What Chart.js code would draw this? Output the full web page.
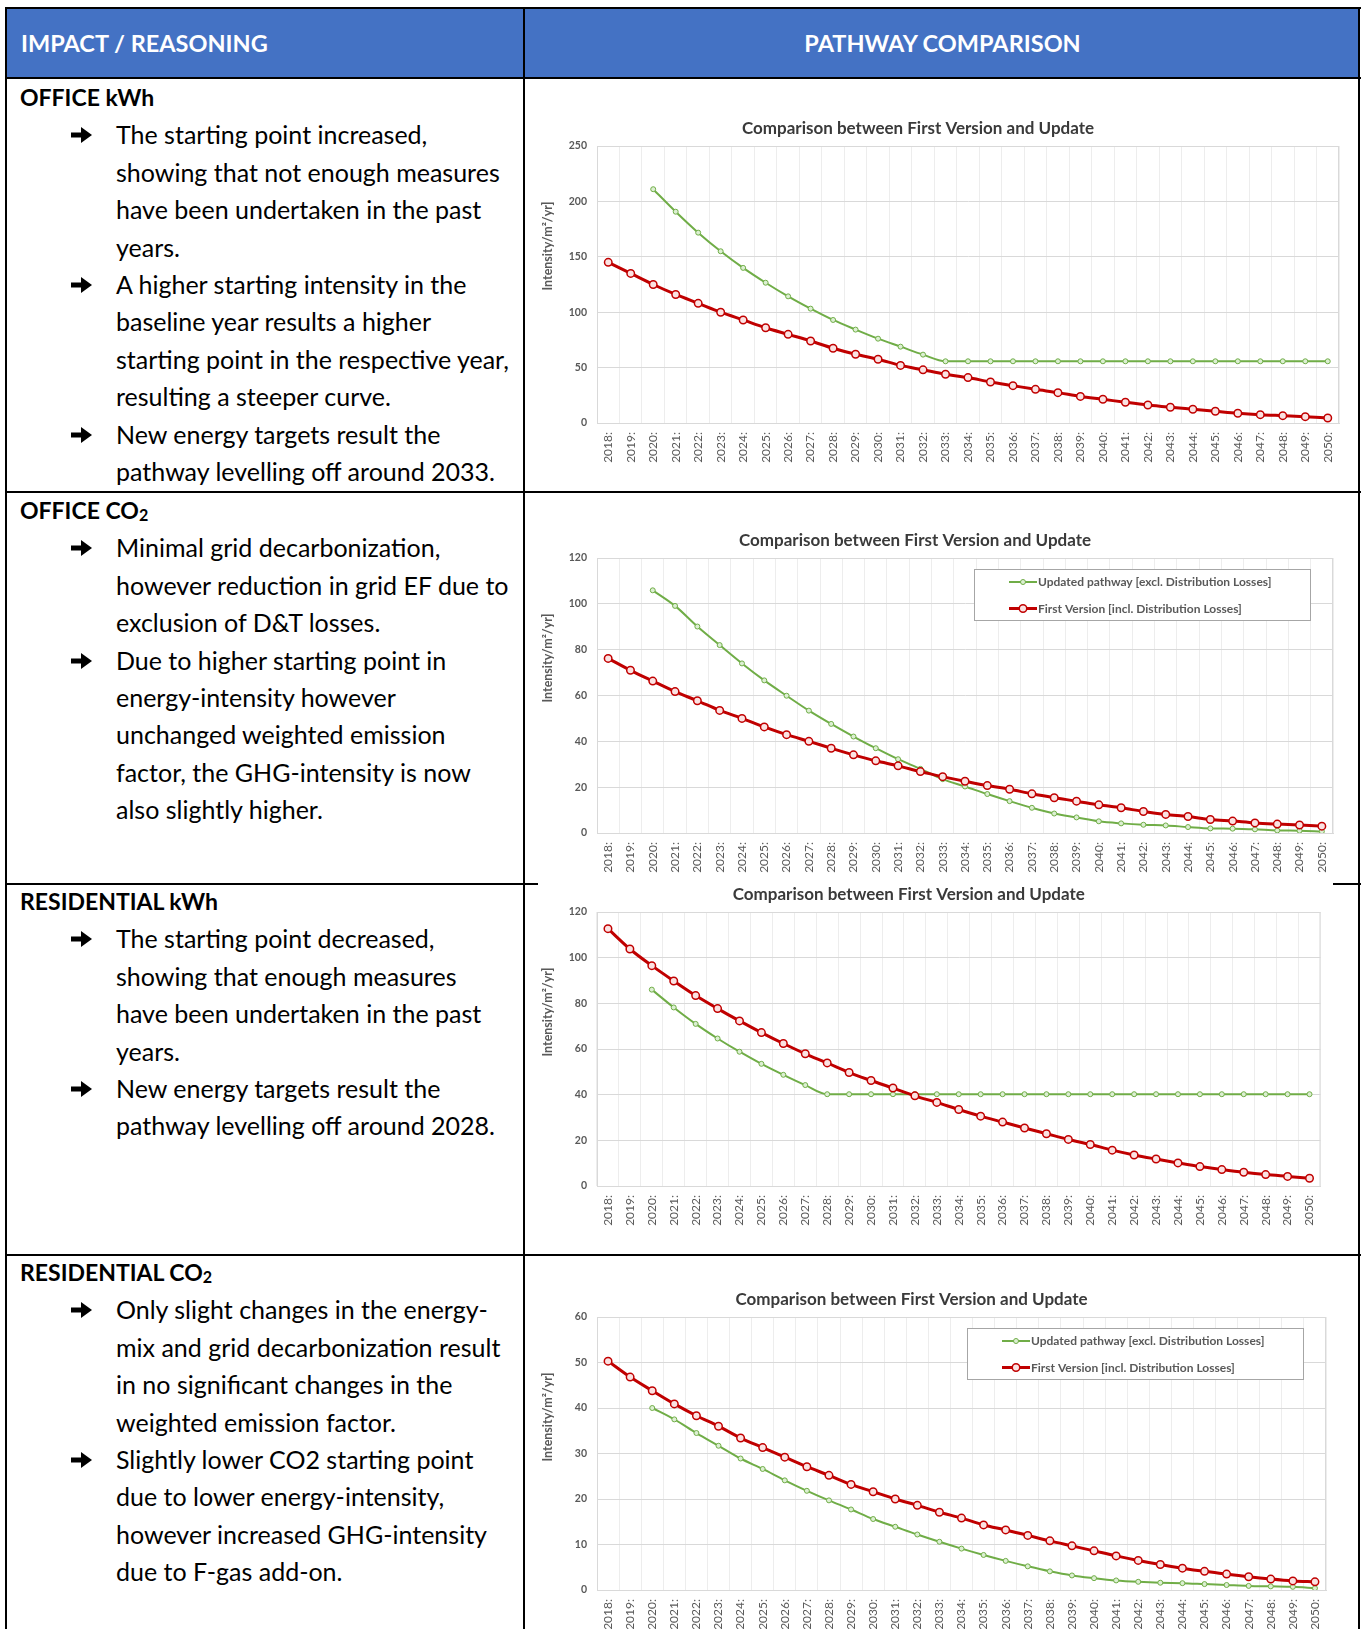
<!DOCTYPE html>
<html>
<head>
<meta charset="utf-8">
<script src="https://cdn.jsdelivr.net/npm/chart.js@4.4.1/dist/chart.umd.min.js"></script>
<style>
html, body { margin: 0; padding: 0; background: #fff; }
body { width: 1368px; height: 1629px; position: relative; overflow: hidden; font-family: Lato, "Open Sans", sans-serif; }
.hl { position: absolute; background: #000; height: 2px; }
.vl { position: absolute; background: #000; width: 2px; }
.head { position: absolute; left: 7px; top: 9px; width: 1352px; height: 69px; background: #4472C4; }
.ht { position: absolute; color: #fff; font-weight: bold; font-size: 23.5px; line-height: 69px; top: 9px; }
.cell { position: absolute; left: 20px; font-size: 25px; line-height: 37.4px; color: #000; white-space: nowrap; }
.cell .h { font-weight: bold; font-size: 23px; }
.cell .b { position: relative; padding-left: 96px; }
.cell .b:before {
  content: ""; position: absolute; left: 51px; top: 11px; width: 21px; height: 16px;
  background: url("data:image/svg+xml;utf8,<svg xmlns='http://www.w3.org/2000/svg' width='21' height='16'><polygon points='0,5.5 10,5.5 10,0 21,8 10,16 10,10.5 0,10.5' fill='black'/></svg>") no-repeat;
}
.sub { font-size: 0.7em; position: relative; top: 0.12em; line-height: 0; }
canvas { position: absolute; background: #fff; }
</style>
</head>
<body>
<div class="head"></div>
<div class="ht" style="left:21px">IMPACT / REASONING</div>
<div class="ht" style="left:525px;width:835px;text-align:center">PATHWAY COMPARISON</div>

<div class="hl" style="left:6px;top:7px;width:1355px"></div>
<div class="hl" style="left:6px;top:77px;width:1355px"></div>
<div class="hl" style="left:6px;top:491px;width:1355px"></div>
<div class="hl" style="left:6px;top:883px;width:1355px"></div>
<div class="hl" style="left:6px;top:1254px;width:1355px"></div>
<div class="vl" style="left:5px;top:7px;height:1622px"></div>
<div class="vl" style="left:523px;top:7px;height:1622px"></div>
<div class="vl" style="left:1358px;top:7px;height:1622px"></div>

<div class="cell" style="top:79px">
  <div class="h">OFFICE kWh</div>
  <div class="b">The starting point increased,<br>showing that not enough measures<br>have been undertaken in the past<br>years.</div>
  <div class="b">A higher starting intensity in the<br>baseline year results a higher<br>starting point in the respective year,<br>resulting a steeper curve.</div>
  <div class="b">New energy targets result the<br>pathway levelling off around 2033.</div>
</div>
<div class="cell" style="top:492px">
  <div class="h">OFFICE CO<span class="sub">2</span></div>
  <div class="b">Minimal grid decarbonization,<br>however reduction in grid EF due to<br>exclusion of D&amp;T losses.</div>
  <div class="b">Due to higher starting point in<br>energy-intensity however<br>unchanged weighted emission<br>factor, the GHG-intensity is now<br>also slightly higher.</div>
</div>
<div class="cell" style="top:883px">
  <div class="h">RESIDENTIAL kWh</div>
  <div class="b">The starting point decreased,<br>showing that enough measures<br>have been undertaken in the past<br>years.</div>
  <div class="b">New energy targets result the<br>pathway levelling off around 2028.</div>
</div>
<div class="cell" style="top:1254px">
  <div class="h">RESIDENTIAL CO<span class="sub">2</span></div>
  <div class="b">Only slight changes in the energy-<br>mix and grid decarbonization result<br>in no significant changes in the<br>weighted emission factor.</div>
  <div class="b">Slightly lower CO2 starting point<br>due to lower energy-intensity,<br>however increased GHG-intensity<br>due to F-gas add-on.</div>
</div>

<canvas id="c1"></canvas>
<canvas id="c2"></canvas>
<canvas id="c3"></canvas>
<canvas id="c4"></canvas>

<script>
const years = ['2018:', '2019:', '2020:', '2021:', '2022:', '2023:', '2024:', '2025:', '2026:', '2027:', '2028:',
  '2029:', '2030:', '2031:', '2032:', '2033:', '2034:', '2035:', '2036:', '2037:', '2038:', '2039:', '2040:',
  '2041:', '2042:', '2043:', '2044:', '2045:', '2046:', '2047:', '2048:', '2049:', '2050:'];

const chartTitle = 'Comparison between First Version and Update';
const yAxisTitle = 'Intensity/m²/yr]';
const updatedLabel = 'Updated pathway [excl. Distribution Losses]';
const firstLabel = 'First Version [incl. Distribution Losses]';

// office kWh
const officeKwhUpdated = [null, null, 211, 190.7, 171.8, 155, 140, 126.6, 114.3, 103.2, 93, 84.3, 76.1, 68.9, 61.7, 55.7,
  55.7, 55.7, 55.7, 55.7, 55.7, 55.7, 55.7, 55.7, 55.7, 55.7, 55.7, 55.7, 55.7, 55.7, 55.7, 55.7, 55.7];
const officeKwhFirst = [145, 135, 125, 116, 108, 100, 93, 86, 80, 74, 67.5, 62, 57.5, 52, 48, 44, 41,
  37, 33.7, 30.4, 27.4, 24, 21.4, 18.7, 16.2, 14.2, 12.4, 10.6, 8.8, 7.5, 6.6, 5.7, 4.5];

// office CO2
const officeCo2Updated = [null, null, 105.9, 99.1, 90.1, 82, 74, 66.6, 59.9, 53.4, 47.6, 42.1, 37, 32.2, 28, 23.5,
  20.3, 17, 13.9, 11.0, 8.5, 6.8, 5.1, 4.2, 3.6, 3.3, 2.6, 2.0, 1.9, 1.6, 1.1, 1.0, 0.7];
const officeCo2First = [76.2, 71, 66.3, 61.7, 57.7, 53.5, 50, 46.3, 42.9, 40, 37, 34.1, 31.5, 29.3, 26.8, 24.6, 22.6,
  20.7, 19.1, 17.1, 15.4, 13.9, 12.3, 11.0, 9.4, 8.1, 7.2, 5.9, 5.2, 4.4, 3.9, 3.5, 3.0];

// residential kWh
const resKwhUpdated = [null, null, 86, 78.2, 71, 64.6, 58.8, 53.5, 48.7, 44.2, 40.2,
  40.2, 40.2, 40.2, 40.2, 40.2, 40.2, 40.2, 40.2, 40.2, 40.2, 40.2, 40.2, 40.2, 40.2, 40.2, 40.2, 40.2, 40.2, 40.2, 40.2, 40.2, 40.2];
const resKwhFirst = [112.7, 103.8, 96.5, 89.8, 83.4, 77.7, 72.3, 67.2, 62.4, 57.9, 53.9, 49.7, 46.2, 42.9, 39.5, 36.6, 33.5,
  30.6, 28.0, 25.4, 22.9, 20.4, 18.2, 15.7, 13.6, 11.8, 10.1, 8.5, 7.2, 6.0, 5.0, 4.2, 3.4];

// residential CO2
const resCo2Updated = [null, null, 40.0, 37.5, 34.5, 31.7, 28.9, 26.6, 24.1, 21.8, 19.7, 17.7, 15.6, 13.9, 12.2, 10.6, 9.1,
  7.7, 6.4, 5.2, 4.1, 3.2, 2.6, 2.1, 1.8, 1.6, 1.5, 1.3, 1.1, 0.9, 0.8, 0.7, 0.4];
const resCo2First = [50.3, 46.8, 43.8, 40.9, 38.3, 36.0, 33.4, 31.3, 29.2, 27.1, 25.2, 23.2, 21.6, 20.0, 18.6, 17.1, 15.8,
  14.3, 13.2, 12.0, 10.8, 9.7, 8.6, 7.5, 6.5, 5.6, 4.8, 4.1, 3.5, 2.9, 2.4, 2.0, 1.8];

const FONT = 'Lato, "Open Sans", sans-serif';
const AXIS_LEFT = 538; // left edge of the y axis band, page coords

// plot frame, title, rotated y title and the boxed legend the way excel draws them
const excelDecor = {
  id: 'excelDecor',
  beforeDatasetsDraw(chart) {
    const { ctx, chartArea: a } = chart;
    ctx.save();
    ctx.strokeStyle = '#d9d9d9';
    ctx.lineWidth = 1;
    ctx.strokeRect(a.left + 0.5, a.top + 0.5, a.right - a.left - 1, a.bottom - a.top);
    ctx.restore();
  },
  afterDraw(chart, args, opts) {
    const { ctx, chartArea: a } = chart;
    ctx.save();
    ctx.fillStyle = '#3a3a3a';
    ctx.font = 'bold 17px ' + FONT;
    ctx.textAlign = 'center';
    ctx.textBaseline = 'middle';
    ctx.fillText(opts.title, (a.left + a.right) / 2 - 50, a.top - 17);

    ctx.save();
    ctx.translate(a.left - 49, a.top + 100);
    ctx.rotate(-Math.PI / 2);
    ctx.fillStyle = '#595959';
    ctx.font = 'bold 12.5px ' + FONT;
    ctx.fillText(opts.yTitle, 0, 0);
    ctx.restore();

    if (opts.legend) {
      const w = 336, h = 51;
      const bx = a.right - 23 - w, by = a.top + 11;
      ctx.fillStyle = '#fff';
      ctx.fillRect(bx, by, w, h);
      ctx.strokeStyle = '#a6a6a6';
      ctx.lineWidth = 1;
      ctx.strokeRect(bx + 0.5, by + 0.5, w, h);
      chart.data.datasets.forEach((ds, i) => {
        const ly = by + 13 + i * 26.5;
        ctx.strokeStyle = ds.borderColor;
        ctx.lineWidth = ds.borderWidth;
        ctx.beginPath();
        ctx.moveTo(bx + 35, ly);
        ctx.lineTo(bx + 63, ly);
        ctx.stroke();
        ctx.beginPath();
        ctx.arc(bx + 49, ly, ds.pointRadius, 0, Math.PI * 2);
        ctx.fillStyle = ds.pointBackgroundColor;
        ctx.fill();
        ctx.lineWidth = ds.pointBorderWidth;
        ctx.stroke();
        ctx.fillStyle = '#595959';
        ctx.font = 'bold 12px ' + FONT;
        ctx.textAlign = 'left';
        ctx.fillText(ds.label, bx + 64, ly + 0.5);
      });
    }
    ctx.restore();
  }
};

function makeChart(id, box, plot, yMax, yStep, updated, first, legend) {
  const cv = document.getElementById(id);
  const [cl, ct, cr, cb] = box;
  const [pl, pt, pr, pb] = plot;
  cv.width = cr - cl;
  cv.height = cb - ct;
  cv.style.left = cl + 'px';
  cv.style.top = ct + 'px';

  return new Chart(cv, {
    type: 'line',
    data: {
      labels: years,
      datasets: [{
        label: updatedLabel,
        data: updated,
        borderColor: '#70AD47',
        borderWidth: 2,
        pointRadius: 2.5,
        pointBackgroundColor: '#dcefd2',
        pointBorderColor: '#70AD47',
        pointBorderWidth: 1,
        cubicInterpolationMode: 'monotone',
        order: 1
      }, {
        label: firstLabel,
        data: first,
        borderColor: '#C00000',
        borderWidth: 3,
        pointRadius: 3.75,
        pointBackgroundColor: '#fbe2e2',
        pointBorderColor: '#C00000',
        pointBorderWidth: 1.5,
        cubicInterpolationMode: 'monotone',
        order: 0
      }]
    },
    options: {
      responsive: false,
      animation: false,
      layout: {
        padding: { left: AXIS_LEFT - cl, top: pt - ct, right: cr - pr, bottom: 0 }
      },
      scales: {
        x: {
          offset: true,
          grid: { offset: true, color: '#ededed', drawTicks: false },
          border: { color: '#d9d9d9' },
          ticks: {
            autoSkip: false, minRotation: 90, maxRotation: 90, padding: 9,
            color: '#595959', font: { family: FONT, size: 12 }
          },
          afterFit(s) { s.height = cb - pb; }
        },
        y: {
          min: 0,
          max: yMax,
          grid: { color: '#d9d9d9', drawTicks: false },
          border: { color: '#d9d9d9' },
          ticks: { stepSize: yStep, padding: 10, color: '#595959', font: { family: FONT, size: 10.5, weight: 'bold' } },
          afterFit(s) { s.width = pl - AXIS_LEFT; }
        }
      },
      plugins: {
        legend: { display: false },
        tooltip: { enabled: false },
        excelDecor: { title: chartTitle, yTitle: yAxisTitle, legend: legend }
      }
    },
    plugins: [excelDecor]
  });
}

makeChart('c1', [527, 82, 1357, 489], [597, 146, 1339, 423], 250, 50, officeKwhUpdated, officeKwhFirst, false);
makeChart('c2', [527, 494, 1357, 881], [597, 558, 1333, 833], 120, 20, officeCo2Updated, officeCo2First, true);
makeChart('c3', [538, 873, 1333, 1253], [597, 912, 1330, 1186], 120, 20, resKwhUpdated, resKwhFirst, false);
makeChart('c4', [527, 1257, 1357, 1629], [597, 1317, 1326, 1590], 60, 10, resCo2Updated, resCo2First, true);
</script>
</body>
</html>
